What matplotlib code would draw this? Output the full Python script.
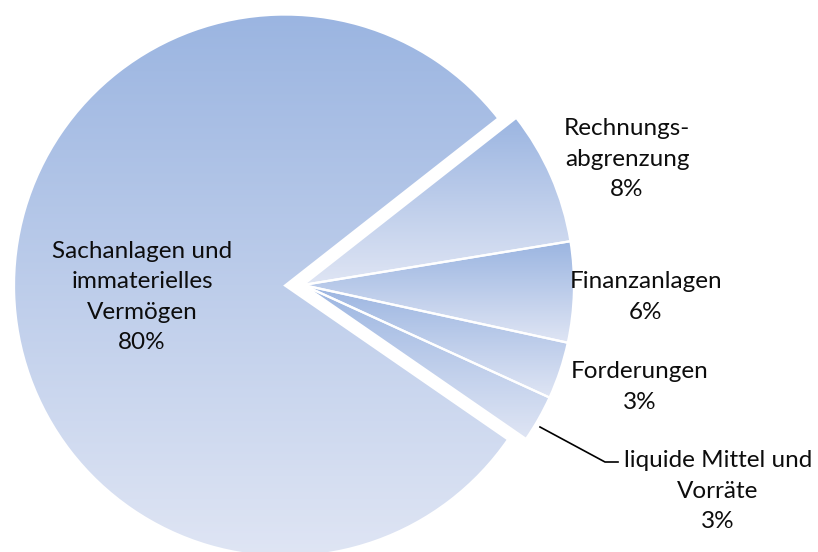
import matplotlib.pyplot as plt
import numpy as np
from matplotlib.colors import LinearSegmentedColormap

plt.rcParams['font.family'] = ['Lato', 'DejaVu Sans']

# Data (shares in %)
labels = ['Rechnungs-\nabgrenzung', 'Finanzanlagen', 'Forderungen',
          'liquide Mittel und\nVorräte', 'Sachanlagen und\nimmaterielles\nVermögen']
shares = [8.0, 6.0, 3.4, 2.8, 79.8]
pct_text = ['8%', '6%', '3%', '3%', '80%']

# label centres in pixel coords (x, y from top)
label_pos = [(627, 159), (646, 297), (640, 387), (718, 491), (142, 297)]

W, H = 818, 552
fig = plt.figure(figsize=(W / 100, H / 100), dpi=100)
ax = fig.add_axes([0, 0, 1, 1])

radius = 271
# explode is in data units (pixels here): big slice pushed left
wedges, _ = ax.pie(shares, center=(303, H - 285), radius=radius, startangle=38.1,
                   counterclock=False, explode=[0, 0, 0, 0, 18],
                   wedgeprops=dict(facecolor='none', edgecolor='white', linewidth=1.6),
                   frame=True)
ax.set_xlim(0, W)
ax.set_ylim(0, H)
ax.set_aspect('equal')
ax.axis('off')

cmap = LinearSegmentedColormap.from_list('grad', ['#dfe5f4', '#9bb5e1'])
grad = np.linspace(0, 1, 256).reshape(-1, 1)
for w in wedges:
    bb = w.get_path().get_extents(w.get_transform() - ax.transData)
    im = ax.imshow(grad, cmap=cmap, origin='lower', aspect='auto',
                   extent=[bb.x0, bb.x1, bb.y0, bb.y1], zorder=1)
    im.set_clip_path(w)
    w.set_zorder(2)

ax.set_xlim(0, W)
ax.set_ylim(0, H)

for lab, pct, (x, y) in zip(labels, pct_text, label_pos):
    ax.text(x, H - y, lab + '\n' + pct, ha='center', va='center', fontsize=17.5,
            linespacing=1.56, color='#0d0d0d', zorder=3)

# leader line for the small slice
ax.plot([540, 605, 618], [H - 427, H - 462, H - 462], color='black', lw=1.2, zorder=3)

fig.savefig('out.png', dpi=100)
